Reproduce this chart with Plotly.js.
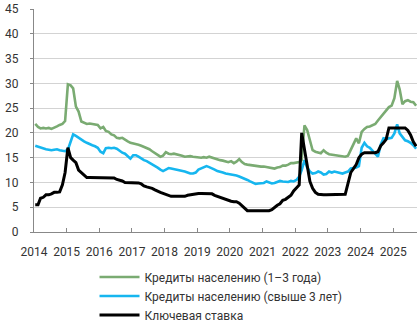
<!DOCTYPE html>
<html>
<head>
<meta charset="utf-8">
<script src="https://cdn.plot.ly/plotly-3.0.1.min.js"></script>
<style>
  html, body { margin: 0; padding: 0; background: #ffffff; }
  #chart { width: 417px; height: 326px; }
</style>
</head>
<body>
<div id="chart"></div>
<script>
// Monthly observations, January 2014 – September 2025
const startYear = 2014;
const yearLabels = ['2014','2015','2016','2017','2018','2019','2020','2021','2022','2023','2024','2025'];

const seriesNames = [
  'Кредиты населению (1–3 года)',
  'Кредиты населению (свыше 3 лет)',
  'Ключевая ставка'
];

// Кредиты населению (1–3 года), % годовых
const loans1to3 = [
  21.8, 21.2, 20.9, 21.0, 20.9, 21.0, 20.8, 21.0, 21.3, 21.6, 21.8, 22.4, // 2014
  29.8, 29.6, 29.0, 25.3, 24.3, 22.3, 22.0, 21.8, 21.9, 21.8, 21.7, 21.6, // 2015
  20.9, 21.2, 20.4, 20.2, 19.7, 19.5, 19.0, 18.9, 19.0, 18.6, 18.3, 18.0, // 2016
  17.9, 17.8, 17.6, 17.4, 17.2, 16.9, 16.7, 16.3, 15.9, 15.6, 15.2, 15.4, // 2017
  16.1, 15.8, 15.7, 15.8, 15.7, 15.6, 15.4, 15.2, 15.3, 15.3, 15.2, 15.1, // 2018
  15.0, 15.0, 15.1, 15.0, 15.2, 15.0, 14.8, 14.6, 14.5, 14.4, 14.2, 14.1, // 2019
  14.3, 13.9, 14.2, 14.7, 14.1, 13.7, 13.6, 13.5, 13.4, 13.4, 13.3, 13.2, // 2020
  13.2, 13.1, 13.0, 12.9, 12.8, 13.0, 13.1, 13.4, 13.4, 13.6, 13.9, 13.9, // 2021
  14.0, 14.1, 14.5, 21.5, 20.6, 18.5, 16.5, 16.2, 16.1, 15.9, 16.5, 16.0, // 2022
  15.7, 15.6, 15.6, 15.5, 15.4, 15.3, 15.2, 15.4, 16.5, 17.8, 18.9, 17.9, // 2023
  20.2, 20.8, 21.2, 21.3, 21.5, 21.8, 22.5, 23.2, 23.8, 24.6, 25.2, 25.5, // 2024
  27.0, 30.5, 28.8, 25.8, 26.4, 26.6, 26.3, 26.2, 25.5                    // 2025
];

// Кредиты населению (свыше 3 лет), % годовых
const loansOver3 = [
  17.4, 17.2, 17.0, 16.9, 16.7, 16.6, 16.5, 16.6, 16.7, 16.5, 16.4, 16.3, // 2014
  16.6, 18.5, 19.7, 19.4, 19.0, 18.6, 18.3, 18.0, 17.7, 17.5, 17.3, 17.0, // 2015
  16.2, 15.9, 16.9, 17.0, 16.9, 17.0, 16.8, 16.4, 16.0, 15.8, 15.2, 14.8, // 2016
  15.5, 15.5, 15.2, 14.8, 14.5, 14.3, 14.0, 13.7, 13.4, 13.0, 12.6, 12.3, // 2017
  12.6, 12.9, 12.8, 12.7, 12.5, 12.4, 12.3, 12.2, 12.0, 11.8, 11.8, 12.0, // 2018
  12.6, 12.8, 13.0, 13.3, 13.1, 12.9, 12.6, 12.3, 12.2, 12.0, 11.8, 11.7, // 2019
  11.7, 11.6, 11.4, 11.2, 11.0, 10.8, 10.5, 10.2, 10.0, 9.7, 9.8, 9.8,    // 2020
  9.9, 10.2, 10.0, 9.8, 9.9, 10.1, 10.3, 10.2, 10.2, 10.1, 10.3, 10.2,    // 2021
  10.5, 11.2, 12.5, 14.5, 13.0, 12.2, 11.8, 11.9, 12.2, 12.0, 11.6, 11.7, // 2022
  12.2, 12.0, 12.2, 12.1, 12.0, 11.8, 12.0, 12.2, 12.8, 12.9, 13.0, 13.3, // 2023
  17.0, 18.0, 17.3, 17.0, 16.4, 16.0, 15.2, 17.6, 18.9, 18.8, 18.9, 19.0, // 2024
  19.9, 21.7, 19.9, 19.3, 18.5, 18.3, 18.0, 17.5, 16.8                    // 2025
];

// Ключевая ставка, %
const keyRate = [
  5.5, 5.5, 6.8, 7.0, 7.5, 7.5, 7.7, 8.0, 8.0, 8.1, 9.5, 12.0,            // 2014
  17.0, 15.0, 14.5, 14.0, 12.5, 12.0, 11.5, 11.0, 11.0, 11.0, 11.0, 11.0, // 2015
  11.0, 11.0, 11.0, 11.0, 11.0, 10.9, 10.6, 10.5, 10.3, 10.0, 10.0, 10.0, // 2016
  10.0, 10.0, 9.9, 9.7, 9.3, 9.1, 9.0, 8.8, 8.5, 8.2, 8.0, 7.8,           // 2017
  7.6, 7.4, 7.2, 7.2, 7.2, 7.2, 7.2, 7.2, 7.4, 7.5, 7.5, 7.6,             // 2018
  7.75, 7.75, 7.75, 7.75, 7.75, 7.7, 7.4, 7.2, 7.0, 6.8, 6.5, 6.3,        // 2019
  6.2, 6.1, 6.1, 5.8, 5.3, 4.8, 4.3, 4.3, 4.3, 4.3, 4.3, 4.3,             // 2020
  4.3, 4.3, 4.3, 4.5, 5.0, 5.4, 5.7, 6.4, 6.6, 7.0, 7.4, 8.3,             // 2021
  8.8, 9.5, 20.0, 16.5, 13.0, 10.2, 8.8, 8.0, 7.6, 7.5, 7.5, 7.5,         // 2022
  7.5, 7.5, 7.5, 7.5, 7.5, 7.5, 7.6, 9.8, 12.0, 12.8, 13.6, 15.0,         // 2023
  15.7, 16.0, 16.0, 16.0, 16.0, 16.0, 16.2, 17.4, 18.0, 18.7, 21.0, 21.0, // 2024
  21.0, 21.0, 21.0, 21.0, 21.0, 20.5, 19.6, 18.2, 17.3                    // 2025
];

// month dates (mid-month) for each observation
const dates = loans1to3.map((_, i) => {
  const y = startYear + Math.floor(i / 12);
  const m = (i % 12) + 1;
  return y + '-' + String(m).padStart(2, '0') + '-15';
});
const yearTicks = yearLabels.map(y => y + '-01-01');

const colors = ['#7aab72', '#16b6ef', '#000000'];
const widths = [2.6, 2.6, 3];
const values = [loans1to3, loansOver3, keyRate];

const traces = values.map((v, k) => ({
  type: 'scatter',
  mode: 'lines',
  x: dates,
  y: v,
  name: seriesNames[k],
  legendgroup: 'g' + k,
  line: { color: colors[k], width: widths[k] },
  hoverinfo: 'skip'
}));

const font = 'Roboto, "Open Sans", Arial, sans-serif';

const layout = {
  width: 417,
  height: 326,
  margin: { l: 34, r: 0, t: 9, b: 94, pad: 0, autoexpand: false },
  paper_bgcolor: '#ffffff',
  plot_bgcolor: '#ffffff',
  font: { family: font, size: 12, color: '#333333' },
  showlegend: true,
  legend: {
    orientation: 'v',
    xref: 'paper',
    x: 0.158, xanchor: 'left',
    yref: 'container',
    y: 0.195, yanchor: 'top',
    font: { family: font, size: 12, color: '#333333' },
    itemwidth: 40,
    tracegroupgap: 0,
    bgcolor: 'rgba(0,0,0,0)'
  },
  xaxis: {
    type: 'date',
    range: ['2014-01-01', '2025-09-25'],
    tickmode: 'array',
    tickvals: yearTicks,
    ticktext: yearLabels,
    ticks: 'inside',
    ticklen: 4,
    tickcolor: '#888888',
    showline: true,
    linecolor: '#888888',
    linewidth: 1,
    showgrid: false,
    zeroline: false,
    automargin: false,
    ticklabelstandoff: 9,
    tickfont: { family: font, size: 12, color: '#333333' },
    fixedrange: true
  },
  yaxis: {
    range: [0, 45],
    tick0: 0,
    dtick: 5,
    ticks: 'outside',
    ticklen: 3,
    tickcolor: '#888888',
    showline: true,
    linecolor: '#888888',
    linewidth: 1,
    showgrid: true,
    gridcolor: '#d3d3d3',
    gridwidth: 1,
    zeroline: false,
    automargin: false,
    ticklabelstandoff: 9,
    tickfont: { family: font, size: 12, color: '#333333' },
    fixedrange: true
  }
};

Plotly.newPlot('chart', traces, layout, { staticPlot: true, displayModeBar: false });
</script>
</body>
</html>
